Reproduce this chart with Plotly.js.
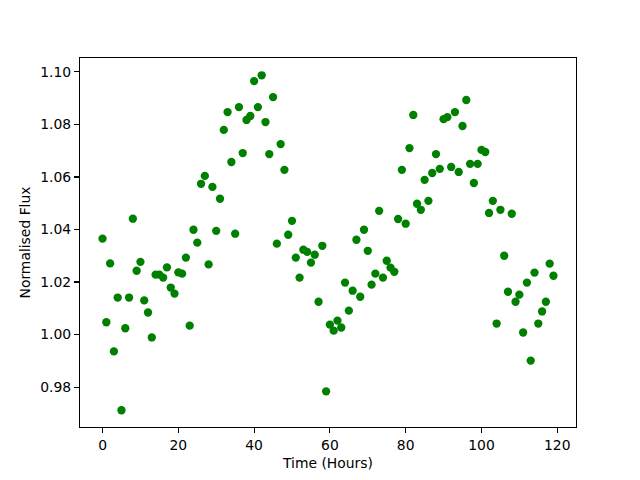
<!DOCTYPE html>
<html>
<head>
<meta charset="utf-8">
<script src="https://cdn.plot.ly/plotly-3.0.1.min.js"></script>
<style>html,body{margin:0;padding:0;background:#fff;}#chart{width:640px;height:480px;}</style>
</head>
<body>
<div id="chart"></div>
<script>
// Time in hours
var hours = [];
for (var i = 0; i < 120; i++) hours.push(i);

// Normalised flux
var flux = [
  1.0365, 1.0047, 1.0271, 0.9936, 1.0141, 0.9712, 1.0024, 1.0141, 1.0441, 1.0243,
  1.0277, 1.0130, 1.0084, 0.9989, 1.0228, 1.0228, 1.0217, 1.0256, 1.0179, 1.0156,
  1.0237, 1.0232, 1.0293, 1.0034, 1.0399, 1.0350, 1.0574, 1.0604, 1.0267, 1.0562,
  1.0395, 1.0517, 1.0779, 1.0847, 1.0657, 1.0384, 1.0866, 1.0691, 1.0817, 1.0832,
  1.0965, 1.0866, 1.0987, 1.0809, 1.0687, 1.0904, 1.0346, 1.0725, 1.0627, 1.0380,
  1.0433, 1.0293, 1.0217, 1.0323, 1.0315, 1.0274, 1.0304, 1.0125, 1.0338, 0.9784,
  1.0038, 1.0015, 1.0053, 1.0027, 1.0198, 1.0091, 1.0167, 1.0361, 1.0144, 1.0399,
  1.0319, 1.0190, 1.0232, 1.0471, 1.0217, 1.0281, 1.0255, 1.0239, 1.0440, 1.0627,
  1.0422, 1.0710, 1.0836, 1.0498, 1.0475, 1.0589, 1.0509, 1.0615, 1.0687, 1.0631,
  1.0820, 1.0828, 1.0638, 1.0847, 1.0619, 1.0794, 1.0893, 1.0650, 1.0577, 1.0650,
  1.0703, 1.0695, 1.0463, 1.0509, 1.0042, 1.0475, 1.0300, 1.0163, 1.0460, 1.0125,
  1.0152, 1.0008, 1.0198, 0.9901, 1.0236, 1.0042, 1.0088, 1.0125, 1.0270, 1.0224
];

var xTitle = "Time (Hours)";
var yTitle = "Normalised Flux";

var trace = {
  x: hours,
  y: flux,
  type: "scatter",
  mode: "markers",
  marker: {color: "#008000", size: 8.3, line: {width: 0}},
  hoverinfo: "none"
};

var font = {family: "DejaVu Sans", size: 13.9, color: "#000"};

var layout = {
  width: 640,
  height: 480,
  margin: {l: 80, r: 64, t: 57.6, b: 52.8, pad: 0},
  paper_bgcolor: "#fff",
  plot_bgcolor: "#fff",
  font: font,
  showlegend: false,
  xaxis: {
    range: [-5.95, 124.95],
    tickmode: "linear", tick0: 0, dtick: 20,
    ticks: "outside", ticklen: 4.9, tickwidth: 1.1, tickcolor: "#000",
    showline: true, linecolor: "#000", linewidth: 1.1, mirror: true,
    showgrid: false, zeroline: false,
    tickfont: font,
    automargin: false,
    title: {text: xTitle, font: font, standoff: 6}
  },
  yaxis: {
    range: [0.96482, 1.10528],
    tickmode: "linear", tick0: 0.98, dtick: 0.02, tickformat: ".2f",
    ticks: "outside", ticklen: 4.9, tickwidth: 1.1, tickcolor: "#000",
    showline: true, linecolor: "#000", linewidth: 1.1, mirror: true,
    showgrid: false, zeroline: false,
    tickfont: font,
    automargin: false,
    title: {text: yTitle, font: font, standoff: 6}
  }
};

Plotly.newPlot("chart", [trace], layout, {staticPlot: true, displayModeBar: false});
</script>
</body>
</html>
